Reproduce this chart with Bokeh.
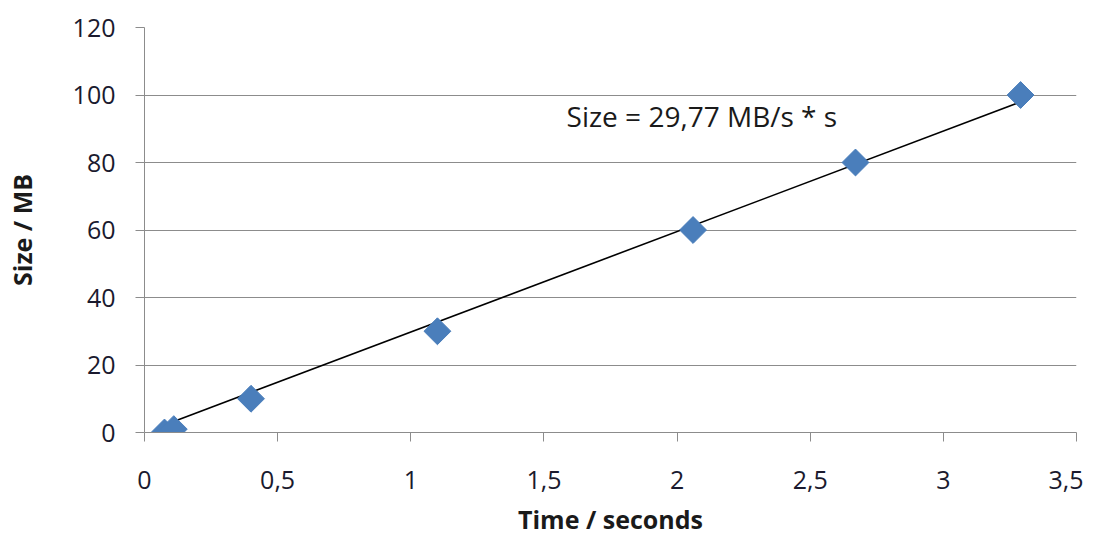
import numpy as np
from bokeh.plotting import figure
from bokeh.models import Label, FixedTicker, Range1d
from bokeh.embed import file_html
from bokeh.resources import INLINE

time_s = [0.075, 0.11, 0.40, 1.10, 2.06, 2.67, 3.29]
size_mb = [0, 1, 10, 30, 60, 80, 100]
slope = 29.77
x_ticks = [0, 0.5, 1, 1.5, 2, 2.5, 3, 3.5]
x_tick_labels = ["0", "0,5", "1", "1,5", "2", "2,5", "3", "3,5"]
y_ticks = [0, 20, 40, 60, 80, 100, 120]
annotation = "Size = 29,77 MB/s * s"

FONT = "Open Sans"
GRID = "#8c8c8c"

p = figure(width=1083, height=538, output_backend="svg", toolbar_location=None,
           x_range=Range1d(0, 3.5), y_range=Range1d(0, 120),
           min_border_left=144, min_border_right=7, min_border_top=27, min_border_bottom=106)
p.outline_line_color = None
p.background_fill_color = "white"

p.xaxis.ticker = FixedTicker(ticks=x_ticks)
p.xaxis.major_label_overrides = {t: l for t, l in zip(x_ticks, x_tick_labels)}
p.yaxis.ticker = FixedTicker(ticks=y_ticks)

for ax in (p.xaxis, p.yaxis):
    ax.axis_line_color = GRID
    ax.major_tick_line_color = GRID
    ax.major_tick_out = 9
    ax.major_tick_in = 0
    ax.minor_tick_line_color = None
    ax.major_label_text_font = FONT
    ax.major_label_text_font_size = "25px"
    ax.major_label_text_color = "#1a1a2e"
    ax.axis_label_text_font = FONT
    ax.axis_label_text_font_style = "bold"
    ax.axis_label_text_color = "#1a1a1a"

p.xaxis.axis_label = "Time / seconds"
p.yaxis.axis_label = "Size / MB"
p.xaxis.axis_label_text_font_size = "25px"
p.yaxis.axis_label_text_font_size = "25px"
p.xaxis.major_label_standoff = 29
p.yaxis.major_label_standoff = 20
p.xaxis.axis_label_standoff = 10
p.yaxis.axis_label_standoff = 31

p.xgrid.grid_line_color = None
p.ygrid.grid_line_color = GRID
p.ygrid.grid_line_width = 1.2

# trend line through origin with fitted slope over data span
xs = np.array([min(time_s), max(time_s)])
p.line(xs, slope * xs, line_color="black", line_width=1.6)

p.scatter(time_s, size_mb, marker="square", angle=np.pi / 4, size=19,
          fill_color="#4a7ebb", line_color="#4a7ebb")

p.add_layout(Label(x=1.585, y=93.9, text=annotation, text_font=FONT,
                   text_font_size="28px", text_color="#1a1a1a",
                   text_baseline="middle"))

open("out.html", "w").write(file_html(p, INLINE))
